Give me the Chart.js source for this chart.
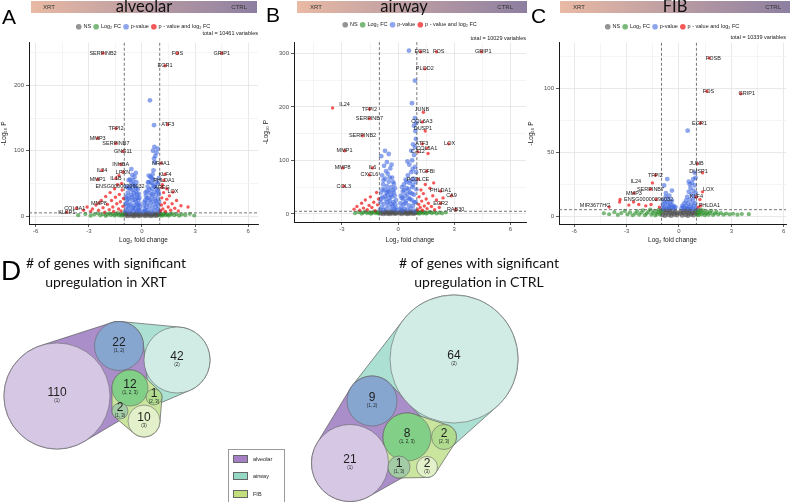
<!DOCTYPE html>
<html>
<head>
<meta charset="utf-8">
<script src="https://cdn.jsdelivr.net/npm/chart.js@4"></script>
<style>
body { margin: 0; width: 790px; height: 502px; overflow: hidden; background: #fff; position: relative; font-family: Lato, 'Liberation Sans', sans-serif; }
canvas { position: absolute; }
.banner { position: absolute; top: 1px; height: 12px; background: linear-gradient(90deg, #e9baa4, #8d7fa1); }
.banner .t { position: absolute; left: 0; right: 0; top: -4px; text-align: center; font-size: 16.5px; line-height: 18px; color: #111; }
.banner .l, .banner .r { position: absolute; top: 3px; font: 6px 'Liberation Sans', Arial, sans-serif; color: #333; }
.letter { position: absolute; font-family: 'Liberation Sans', Arial, sans-serif; color: #000; line-height: 1; }
.dtitle { position: absolute; width: 220px; text-align: center; font-size: 14px; line-height: 19px; color: #111; }
.elegend { position: absolute; left: 228px; top: 449px; width: 57px; height: 60px; border: 1px solid #9a9a9a; box-sizing: border-box; font: 5.5px 'Liberation Sans', Arial, sans-serif; color: #222; }
.elegend div { height: 17.5px; display: flex; align-items: center; padding-left: 4px; }
.elegend span { display: inline-block; width: 13px; height: 6px; border: 0.5px solid #666; margin-right: 5px; }
</style>
</head>
<body>
<canvas id="volA" width="262" height="229" style="left:0;top:15px"></canvas>
<canvas id="volB" width="268" height="229" style="left:262px;top:15px"></canvas>
<canvas id="volC" width="263" height="229" style="left:527px;top:15px"></canvas>
<canvas id="euler" width="790" height="252" style="left:0;top:250px"></canvas>

<div class="banner" style="left:31px;width:226px"><span class="l" style="left:12px">XRT</span><div class="t">alveolar</div><span class="r" style="right:10px">CTRL</span></div>
<div class="banner" style="left:297px;width:230px"><span class="l" style="left:13px">XRT</span><div class="t" style="right:16px">airway</div><span class="r" style="right:14px">CTRL</span></div>
<div class="banner" style="left:560px;width:230px"><span class="l" style="left:13px">XRT</span><div class="t">FIB</div><span class="r" style="right:9px">CTRL</span></div>
<div class="letter" style="left:2px;top:6px;font-size:21px">A</div>
<div class="letter" style="left:266px;top:4px;font-size:21px">B</div>
<div class="letter" style="left:531px;top:5px;font-size:21px">C</div>
<div class="letter" style="left:1px;top:257px;font-size:28px">D</div>
<div class="dtitle" style="left:-4px;top:253px"># of genes with significant<br>upregulation in XRT</div>
<div class="dtitle" style="left:369px;top:253px"># of genes with significant<br>upregulation in CTRL</div>
<div class="elegend">
  <div><span style="background:#a57fc3"></span>alveolar</div>
  <div><span style="background:#95d9c4"></span>airway</div>
  <div><span style="background:#c2df7b"></span>FIB</div>
</div>

<script>
Chart.defaults.font.family = "'Liberation Sans', Arial, sans-serif"
Chart.defaults.color = '#4d4d4d'
Chart.defaults.animation = false

const fcCutoff = 1
const pCutoff = 5
const volcanoLabels = ['NS', 'Log₂ FC', 'p-value', 'p - value and log₂ FC']
const volcanoColours = ['rgba(77,77,77,0.6)', 'rgba(34,139,34,0.6)', 'rgba(65,105,225,0.6)', 'rgba(238,0,0,0.65)']
const volcanoRadius = [2.5, 2.1, 2.4, 1.7]
const xTickValues = [-6, -4.5, -3, -1.5, 0, 1.5, 3, 4.5, 6]

// alveolar
const aNS = [[-0.95,1.2],[-0.88,3.5],[-0.8,0.6],[-0.74,2.4],[-0.66,4.1],[-0.6,1.1],[-0.52,3.0],[-0.45,0.4],[-0.4,2.2],[-0.33,4.3],[-0.27,1.5],[-0.2,3.1],[-0.14,0.8],[-0.08,2.6],[0.06,1.9],[0.12,3.8],[0.19,0.7],[0.25,2.7],[0.31,4.4],[0.38,1.3],[0.44,3.3],[0.51,0.5],[0.57,2.1],[0.63,4.0],[0.7,1.4],[0.77,3.2],[0.83,0.9],[0.9,2.5],[0.96,4.2],[-0.92,4.6]]
const aFC = [[-3.6,1.5],[-3.2,3.2],[-2.9,0.8],[-2.7,2.6],[-2.5,4.1],[-2.35,1.2],[-2.2,3.0],[-2.05,0.5],[-1.95,2.2],[-1.85,4.3],[-1.75,1.6],[-1.65,3.4],[-1.55,0.9],[-1.45,2.7],[-1.38,4.5],[-1.3,1.3],[-1.22,3.1],[-1.15,0.6],[-1.08,2.4],[-1.03,4.0],[1.03,1.1],[1.08,3.3],[1.14,0.7],[1.2,2.5],[1.27,4.2],[1.34,1.5],[1.42,3.0],[1.5,0.9],[1.6,2.3],[1.7,4.0],[1.82,1.4],[1.95,3.1],[2.1,0.8],[2.25,2.6],[2.45,1.7],[2.7,3.5],[2.95,1.0]]
const aP = [[-0.95,7],[-0.9,15],[-0.92,28],[-0.86,9],[-0.83,21],[-0.8,36],[-0.76,12],[-0.73,27],[-0.7,44],[-0.68,6],[-0.65,18],[-0.62,33],[-0.6,50],[-0.57,10],[-0.55,24],[-0.52,40],[-0.5,55],[-0.47,8],[-0.45,16],[-0.43,30],[-0.4,46],[-0.38,12],[-0.36,22],[-0.34,37],[-0.32,52],[-0.3,7],[-0.28,18],[-0.26,28],[-0.24,41],[-0.22,11],[-0.2,25],[-0.18,34],[-0.16,9],[-0.14,19],[-0.12,14],[-0.1,7],[-0.42,60],[-0.35,66],[-0.55,63],[-0.6,72],[-0.75,55],[-0.88,45],
  [-0.93,19],[-0.85,31],[-0.78,43],[-0.71,16],[-0.64,41],[-0.58,29],[-0.5,13],[-0.46,35],[-0.39,25],[-0.33,43],[-0.27,33],[-0.21,17],[-0.15,28],[-0.67,56],[-0.48,48],[-0.82,25],
  [0.1,7],[0.12,16],[0.15,10],[0.18,24],[0.2,8],[0.22,31],[0.25,14],[0.27,38],[0.3,20],[0.32,45],[0.35,9],[0.37,28],[0.4,52],[0.42,16],[0.45,35],[0.48,60],[0.5,6],[0.52,22],[0.55,42],[0.58,12],[0.6,30],[0.62,48],[0.65,18],[0.68,37],[0.7,8],[0.72,26],[0.75,44],[0.78,14],[0.8,33],[0.83,20],[0.86,40],[0.88,10],[0.9,27],[0.93,16],[0.96,34],[0.98,8],[0.6,64],[0.65,70],[0.72,82],[0.68,88],[0.75,92],[0.82,97],[0.88,103],[0.62,100],[0.7,106],[0.45,177],[0.68,139],[0.95,58],[0.9,50],
  [0.14,21],[0.2,36],[0.28,27],[0.34,52],[0.41,41],[0.47,25],[0.53,51],[0.57,33],[0.64,56],[0.7,46],[0.76,23],[0.84,52],[0.91,38],[0.97,22],[0.38,62],[0.55,58]]
const aBoth = [[-2.2,249],[2.0,249],[4.5,249],[1.3,230],[1.45,140],[-1.47,134],[-2.5,119],[-1.47,111],[-1.07,99],[-1.2,79],[1.07,81],[-2.26,70],[-1.07,67],[-1.47,58],[-2.5,56],[1.3,64],[1.24,55],[1.13,44],[1.75,37],[-3.7,12],[-4.25,6],[-2.43,20],
  [-3.3,9],[-3.1,14],[-2.9,7],[-2.8,11],[-2.6,17],[-2.45,9],[-2.3,24],[-2.2,13],[-2.1,6],[-2.05,30],[-1.95,18],[-1.85,10],[-1.8,36],[-1.72,24],[-1.65,14],[-1.6,7],[-1.55,42],[-1.5,29],[-1.42,19],[-1.38,48],[-1.32,11],[-1.28,33],[-1.22,22],[-1.18,8],[-1.12,40],[-1.08,15],[-1.05,27],[-1.3,62],[-1.15,50],
  [1.05,8],[1.1,17],[1.12,28],[1.18,11],[1.22,36],[1.28,20],[1.33,7],[1.4,26],[1.48,14],[1.55,31],[1.62,9],[1.7,19],[1.85,12],[1.95,24],[2.05,8],[2.2,16],[2.6,14],[1.15,48],[1.4,42]]
const aGenes = ['SERPINB2','FOS','GRIP1','EGR1','ATF3','TFPI2','MMP3','SERPINB7','GNG11','INHBA','NR4A1','IL24','LPXN','IL1B','MMP1','KLF4','PHLDA1','ENSG00000296032','AREG','LOX','COL3A1','KLKP1','MMP8']
const aGeneX = [-2.2,2.0,4.5,1.3,1.45,-1.47,-2.5,-1.47,-1.07,-1.2,1.07,-2.26,-1.07,-1.47,-2.5,1.3,1.24,-1.24,1.13,1.75,-3.8,-4.25,-2.43]
const aGeneY = [249,249,249,230,140,134,119,111,99,79,81,70,67,58,56,64,55,46,44,37,12,6,20]

// airway
const bNS = [[-0.95,1.4],[-0.88,3.6],[-0.8,0.5],[-0.73,2.3],[-0.66,4.2],[-0.6,1.0],[-0.52,3.1],[-0.45,0.5],[-0.4,2.1],[-0.33,4.4],[-0.27,1.4],[-0.2,3.2],[-0.14,0.7],[-0.08,2.5],[0.07,1.8],[0.13,3.9],[0.19,0.6],[0.26,2.6],[0.32,4.5],[0.38,1.2],[0.45,3.4],[0.51,0.4],[0.58,2.0],[0.64,4.1],[0.7,1.5],[0.77,3.3],[0.84,0.8],[0.9,2.4],[0.96,4.3]]
const bFC = [[-2.3,1.5],[-2.1,3.4],[-1.95,0.8],[-1.85,2.6],[-1.75,4.2],[-1.65,1.3],[-1.55,3.1],[-1.45,0.6],[-1.38,2.2],[-1.3,4.4],[-1.22,1.7],[-1.15,3.5],[-1.08,0.9],[-1.03,2.8],[1.03,1.4],[1.08,3.6],[1.14,0.6],[1.2,2.4],[1.27,4.3],[1.34,1.2],[1.42,3.0],[1.5,0.7],[1.6,2.5],[1.7,4.1],[1.8,1.5],[1.92,3.2],[2.05,0.9],[2.2,2.4],[2.35,1.2],[2.55,3.0]]
const bP = [[-0.97,8],[-0.94,22],[-0.9,40],[-0.87,13],[-0.84,31],[-0.8,55],[-0.77,7],[-0.74,19],[-0.72,45],[-0.69,66],[-0.66,27],[-0.63,10],[-0.6,52],[-0.58,36],[-0.55,75],[-0.52,16],[-0.5,60],[-0.47,42],[-0.44,24],[-0.42,85],[-0.4,8],[-0.37,50],[-0.35,32],[-0.32,68],[-0.3,14],[-0.28,44],[-0.25,22],[-0.22,56],[-0.2,9],[-0.18,34],[-0.15,18],[-0.12,26],[-0.1,7],[-0.85,72],[-0.75,90],[-0.6,97],[-0.9,108],[-0.5,112],[-0.7,118],[-0.35,92],
  [-0.92,28],[-0.83,46],[-0.78,63],[-0.7,33],[-0.64,80],[-0.56,22],[-0.53,44],[-0.45,68],[-0.38,36],[-0.33,18],[-0.27,60],[-0.23,40],[-0.17,48],[-0.13,12],[-0.62,40],[-0.47,30],
  [0.1,8],[0.13,20],[0.16,12],[0.19,30],[0.22,6],[0.25,42],[0.28,18],[0.31,55],[0.34,10],[0.37,34],[0.4,64],[0.43,24],[0.46,48],[0.49,8],[0.52,72],[0.55,30],[0.58,16],[0.61,58],[0.64,40],[0.67,10],[0.7,78],[0.73,26],[0.76,50],[0.79,15],[0.82,66],[0.85,36],[0.88,6],[0.91,88],[0.94,22],[0.97,46],[0.6,92],[0.75,100],[0.85,110],[0.9,125],[0.95,140],[0.92,155],[0.97,170],[0.85,165],[0.74,207],[0.9,179],[0.9,249],[0.58,305],[0.7,118],[0.8,130],[0.5,98],
  [0.15,34],[0.21,50],[0.27,28],[0.33,44],[0.39,20],[0.45,60],[0.5,38],[0.56,46],[0.63,28],[0.68,62],[0.74,38],[0.8,54],[0.86,22],[0.93,60],[0.96,78],[0.78,84]]
const bBoth = [[1.2,303],[2.05,303],[4.45,303],[1.43,271],[-3.5,198],[-1.53,196],[1.35,190],[-1.53,178],[1.3,172],[1.45,155],[-1.9,146],[1.3,131],[2.7,131],[1.55,123],[1.6,113],[1.06,116],[-2.86,118],[-2.96,86],[-1.37,86],[1.53,80],[-1.53,73],[1.06,65],[-2.9,52],[2.27,43],[2.85,34],[2.27,20],[3.07,8],
  [1.05,8],[1.1,18],[1.12,32],[1.18,12],[1.22,45],[1.26,24],[1.3,7],[1.35,38],[1.4,15],[1.45,55],[1.5,28],[1.55,10],[1.62,20],[1.7,48],[1.78,14],[1.85,34],[1.95,8],[2.05,26],[2.2,12],[2.4,30],[1.9,58],
  [-2.35,9],[-2.2,14],[-2.05,7],[-1.95,20],[-1.85,11],[-1.75,26],[-1.65,8],[-1.55,16],[-1.48,32],[-1.4,12],[-1.3,22],[-1.22,6],[-1.15,40],[-1.1,17],[-1.05,28]]
const bGenes = ['EGR1','FOS','GRIP1','PLOD2','IL24','TFPI2','JUNB','SERPINB7','COL6A3','DUSP1','SERPINB2','ATF3','LOX','COL5A1','CA12','MMP1','MMP8','IL6','TGFBI','CXCL6','PCOLCE','COL3','PHLDA1','CA9','EGR2','RAB30']
const bGeneX = [1.27,2.17,4.55,1.43,-2.86,-1.53,1.27,-1.53,1.27,1.32,-1.9,1.27,2.75,1.53,1.06,-2.86,-2.96,-1.37,1.53,-1.53,1.06,-2.9,2.27,2.85,2.27,3.07]
const bGeneY = [303,303,303,271,204,196,196,178,172,160,146,131,131,123,116,118,86,86,80,73,65,52,43,34,20,8]

// FIB
const cNS = [[-0.95,1.0],[-0.9,3.6],[-0.84,5.0],[-0.8,0.5],[-0.74,2.4],[-0.66,4.3],[-0.6,1.2],[-0.52,3.1],[-0.45,0.4],[-0.4,2.2],[-0.33,4.6],[-0.27,1.5],[-0.2,3.2],[-0.13,0.8],[-0.08,2.3],[0.08,1.9],[0.13,3.8],[0.19,0.6],[0.25,2.7],[0.31,4.6],[0.38,1.3],[0.44,3.3],[0.51,0.5],[0.57,2.1],[0.63,4.1],[0.7,1.4],[0.77,3.2],[0.83,0.9],[0.9,2.5],[0.95,4.4],[-0.55,5.2],[0.5,5.1]]
const cFC = [[-4.3,2.2],[-4.0,1.4],[-3.7,3.0],[-3.5,0.9],[-3.3,2.3],[-3.1,4.0],[-2.95,1.2],[-2.8,2.9],[-2.65,0.6],[-2.5,2.0],[-2.4,3.8],[-2.28,1.1],[-2.15,2.7],[-2.05,4.5],[-1.95,0.7],[-1.85,1.9],[-1.75,3.3],[-1.65,5.0],[-1.58,1.0],[-1.5,2.5],[-1.42,4.1],[-1.35,0.5],[-1.28,1.8],[-1.22,3.2],[-1.16,4.8],[-1.1,1.2],[-1.05,2.6],[-1.02,4.0],
  [1.02,1.0],[1.05,2.8],[1.08,4.6],[1.12,0.6],[1.16,2.0],[1.2,3.5],[1.25,5.0],[1.3,1.2],[1.36,2.7],[1.42,4.2],[1.48,0.7],[1.55,2.0],[1.62,3.4],[1.7,1.1],[1.78,2.5],[1.86,4.0],[1.95,0.8],[2.05,2.0],[2.15,3.2],[2.25,1.2],[2.4,2.4],[2.55,1.0],[2.7,2.0],[2.9,1.3],[3.1,1.8],[3.35,1.1],[3.6,1.6],[4.0,1.5]]
const cP = [[-0.95,6],[-0.92,9],[-0.88,12],[-0.85,7],[-0.8,10],[-0.76,15],[-0.72,6],[-0.68,11],[-0.64,8],[-0.6,13],[-0.56,7],[-0.52,10],[-0.48,6],[-0.44,9],[-0.4,12],[-0.35,7],[-0.3,8],[-0.25,6],[-0.2,7],[-0.67,29],[-0.85,24],[-0.4,20],[-0.75,18],[-0.55,16],
  [0.15,6],[0.2,8],[0.25,7],[0.3,10],[0.35,6],[0.4,12],[0.43,8],[0.47,15],[0.5,6],[0.53,10],[0.56,19],[0.6,7],[0.63,13],[0.66,22],[0.7,9],[0.72,17],[0.75,26],[0.78,6],[0.8,12],[0.83,20],[0.86,8],[0.88,15],[0.9,24],[0.93,10],[0.96,18],[0.56,27],[0.62,25],[0.9,34],[0.95,30],[0.82,29],[0.5,67],[0.7,5.5],[0.98,6]]
const cBoth = [[1.74,124],[1.6,98],[3.54,96],[1.24,73],[1.05,41],[1.35,34],[-1.35,32],[-1.52,26],[-1.63,21],[1.35,19],[-2.58,18],[1.0,15],[-3.37,13],[-2.87,8.6],[-4.0,7],[-3.4,11],[-2.6,11],[-2.3,9],[-1.9,8],[-1.6,9],[-1.3,13],[-1.12,7],[1.24,8],[1.2,13],[1.1,7]]
const cGenes = ['FOSB','FOS','GRIP1','EGR1','JUNB','DUSP1','TFPI2','IL24','SERPINB7','LOX','MMP3','KLF4','ENSG00000296032','MIR3677HG','PHLDA1']
const cGeneX = [1.97,1.69,3.88,1.18,1.0,1.12,-1.35,-2.47,-1.63,1.69,-2.58,1.0,-1.74,-4.8,1.74]
const cGeneY = [124,98,96,73,41,35,32,27,21,21,18,15,13,8.5,8]

// euler counts
const xrtCounts = [110, 22, 42, 12, 1, 2, 10]
const xrtSets = [[1], [1, 2], [2], [1, 2, 3], [2, 3], [1, 3], [3]]
const xrtX = [57, 119, 177, 130, 154, 120, 144]
const xrtY = [396, 346, 360, 388, 397, 411, 421]
const xrtR = [53, 24.5, 33, 18, 8, 8, 16]

const ctrlCounts = [64, 9, 21, 8, 2, 1, 2]
const ctrlSets = [[2], [1, 2], [1], [1, 2, 3], [2, 3], [1, 3], [3]]
const ctrlX = [454, 372, 350, 407, 444, 399, 427]
const ctrlY = [359, 401, 463, 437, 437, 467, 467]
const ctrlR = [64, 25, 38.5, 24, 12.5, 11, 10.5]

const regionColours = { '1': '#d6c8e5', '2': '#d1ece5', '3': '#e3f1cb', '1,2': '#86a6d0', '1,3': '#a3cca6', '2,3': '#b1dc90', '1,2,3': '#82cf87' }
const hullColours = { 1: '#a98ec9', 2: '#abe0d2', 3: '#c9e59e' }
const hullOrder = [2, 1, 3]

const pts = a => a.map(([x, y]) => ({ x, y }))

const volcano = (id, p) => {
  const layer = {
    id: 'geneLayer',
    afterDatasetsDraw(chart) {
      const { ctx, chartArea: a, scales: { x, y } } = chart
      ctx.save()
      ctx.setLineDash([3, 2])
      ctx.strokeStyle = '#555'
      ctx.lineWidth = 0.8
      ctx.beginPath()
      for (const v of [-fcCutoff, fcCutoff]) {
        const px = x.getPixelForValue(v)
        ctx.moveTo(px, a.top); ctx.lineTo(px, a.bottom)
      }
      const py = y.getPixelForValue(pCutoff)
      ctx.moveTo(a.left, py); ctx.lineTo(a.right, py)
      ctx.stroke()
      ctx.setLineDash([])
      ctx.font = "5.5px 'Liberation Sans', Arial, sans-serif"
      ctx.fillStyle = '#1a1a1a'
      ctx.textAlign = 'center'
      ctx.textBaseline = 'middle'
      p.genes.forEach((g, i) => ctx.fillText(g, x.getPixelForValue(p.geneX[i]), y.getPixelForValue(p.geneY[i])))
      ctx.restore()
    }
  }
  const major = c => c.tick && Math.abs(c.tick.value % p.yLabelStep) < 1e-9
  new Chart(document.getElementById(id), {
    type: 'scatter',
    data: {
      datasets: [p.ns, p.fc, p.pv, p.both].map((d, i) => ({
        label: volcanoLabels[i],
        data: pts(d),
        backgroundColor: volcanoColours[i],
        borderWidth: 0,
        pointRadius: volcanoRadius[i],
        order: 4 - i,
      })),
    },
    options: {
      responsive: false,
      events: [],
      layout: { padding: { top: p.padTop, right: p.padRight } },
      plugins: {
        tooltip: { enabled: false },
        legend: {
          fullSize: false,
          labels: { usePointStyle: true, pointStyle: 'circle', boxWidth: 4, boxHeight: 4, padding: 3, font: { size: 5.5 }, color: '#1a1a1a', sort: (a, b) => a.datasetIndex - b.datasetIndex },
        },
        subtitle: { display: true, text: p.total, align: 'end', fullSize: false, weight: 500, font: { size: 5.5 }, color: '#1a1a1a', padding: { top: p.subTop, bottom: p.subBottom } },
      },
      scales: {
        x: {
          type: 'linear', min: p.xMin, max: p.xMax,
          afterBuildTicks: s => { s.ticks = xTickValues.filter(v => v >= s.min && v <= s.max).map(value => ({ value })) },
          afterFit: s => { s.height = p.xAxisH },
          ticks: { callback: v => (Math.abs(v % 3) < 1e-9 ? v : ''), font: { size: 6 }, padding: 1, maxRotation: 0, autoSkip: false },
          grid: { color: c => (c.tick && Math.abs(c.tick.value % 3) < 1e-9 ? '#e3e3e3' : '#f1f1f1'), tickColor: c => (c.tick && Math.abs(c.tick.value % 3) < 1e-9 ? '#333' : 'rgba(0,0,0,0)'), tickLength: 3, lineWidth: 0.8 },
          border: { color: '#1a1a1a', width: 1 },
          title: { display: true, text: 'Log₂ fold change', font: { size: 6.5 }, color: '#1a1a1a', padding: 0 },
        },
        y: {
          type: 'linear', min: p.yMin, max: p.yMax,
          afterBuildTicks: s => { s.ticks = p.yTicks.map(value => ({ value })) },
          afterFit: s => { s.width = p.yAxisW },
          ticks: { callback: v => (Math.abs(v % p.yLabelStep) < 1e-9 ? v : ''), font: { size: 6 }, padding: 2, autoSkip: false },
          grid: { color: c => (major(c) ? '#e3e3e3' : '#f1f1f1'), tickColor: c => (major(c) ? '#333' : 'rgba(0,0,0,0)'), tickLength: 3, lineWidth: 0.8 },
          border: { color: '#1a1a1a', width: 1 },
          title: { display: true, text: '-Log₁₀ P', font: { size: 6.5 }, color: '#1a1a1a', padding: 0 },
        },
      },
    },
    plugins: [layer],
  })
}

volcano('volA', { ns: aNS, fc: aFC, pv: aP, both: aBoth, genes: aGenes, geneX: aGeneX, geneY: aGeneY, total: 'total = 10461 variables',
  xMin: -6.38, xMax: 6.55, yMin: -12, yMax: 265, yTicks: [0, 50, 100, 150, 200, 250], yLabelStep: 100, yAxisW: 29, xAxisH: 20, padTop: 6, subTop: -9, subBottom: 5.7, padRight: 4 })
volcano('volB', { ns: bNS, fc: bFC, pv: bP, both: bBoth, genes: bGenes, geneX: bGeneX, geneY: bGeneY, total: 'total = 10029 variables',
  xMin: -5.56, xMax: 6.83, yMin: -15, yMax: 321, yTicks: [0, 50, 100, 150, 200, 250, 300], yLabelStep: 100, yAxisW: 32, xAxisH: 22, padTop: 4, subTop: -2, subBottom: 0, padRight: 2 })
volcano('volC', { ns: cNS, fc: cFC, pv: cP, both: cBoth, genes: cGenes, geneX: cGeneX, geneY: cGeneY, total: 'total = 10339 variables',
  xMin: -6.87, xMax: 6.13, yMin: -6.25, yMax: 136, yTicks: [0, 25, 50, 75, 100, 125], yLabelStep: 50, yAxisW: 32, xAxisH: 20, padTop: 6, subTop: -5, subBottom: 1.7, padRight: 0 })

const convexHull = input => {
  const p = input.slice().sort((a, b) => a[0] - b[0] || a[1] - b[1])
  const cross = (o, a, b) => (a[0] - o[0]) * (b[1] - o[1]) - (a[1] - o[1]) * (b[0] - o[0])
  const lower = [], upper = []
  for (const q of p) {
    while (lower.length >= 2 && cross(lower[lower.length - 2], lower[lower.length - 1], q) <= 0) lower.pop()
    lower.push(q)
  }
  for (const q of p.reverse()) {
    while (upper.length >= 2 && cross(upper[upper.length - 2], upper[upper.length - 1], q) <= 0) upper.pop()
    upper.push(q)
  }
  upper.pop(); lower.pop()
  return lower.concat(upper)
}

const pxRadius = (chart, r) => chart.scales.x.getPixelForValue(r) - chart.scales.x.getPixelForValue(0)

const eulerLayer = {
  id: 'eulerLayer',
  beforeDatasetsDraw(chart) {
    const { ctx, scales: { x, y } } = chart
    ctx.save()
    chart.data.datasets.forEach(ds => {
      hullOrder.forEach(k => {
        const ring = []
        ds.sets.forEach((s, i) => {
          if (!s.includes(k)) return
          const cx = x.getPixelForValue(ds.xs[i]), cy = y.getPixelForValue(ds.ys[i]), r = pxRadius(chart, ds.rs[i])
          for (let t = 0; t < 90; t++) ring.push([cx + r * Math.cos(t * Math.PI / 45), cy + r * Math.sin(t * Math.PI / 45)])
        })
        const h = convexHull(ring)
        ctx.beginPath()
        h.forEach(([hx, hy], j) => (j ? ctx.lineTo(hx, hy) : ctx.moveTo(hx, hy)))
        ctx.closePath()
        ctx.fillStyle = hullColours[k]
        ctx.fill()
        ctx.strokeStyle = '#5b5b5b'
        ctx.lineWidth = 0.7
        ctx.stroke()
      })
    })
    ctx.restore()
  },
  afterDatasetsDraw(chart) {
    const { ctx, scales: { x, y } } = chart
    ctx.save()
    ctx.textAlign = 'center'
    ctx.textBaseline = 'middle'
    ctx.fillStyle = '#1e1e1e'
    chart.data.datasets.forEach(ds => {
      ds.counts.forEach((n, i) => {
        const cx = x.getPixelForValue(ds.xs[i]), cy = y.getPixelForValue(ds.ys[i])
        ctx.font = "12px 'Liberation Sans', Arial, sans-serif"
        ctx.fillText(String(n), cx, cy - 3)
        ctx.font = "4.5px 'Liberation Sans', Arial, sans-serif"
        ctx.fillText('(' + ds.sets[i].join(', ') + ')', cx, cy + 5)
      })
    })
    ctx.restore()
  }
}

// scales run one unit per pixel, so r doubles as the bubble radius
const eulerSet = (label, counts, sets, xs, ys, rs) => ({
  label, counts, sets, xs, ys, rs,
  data: xs.map((x, i) => ({ x, y: ys[i], r: rs[i] })),
  backgroundColor: sets.map(s => regionColours[s.join(',')]),
  borderColor: '#666',
  borderWidth: 0.6,
  clip: false,
})

new Chart(document.getElementById('euler'), {
  type: 'bubble',
  data: {
    datasets: [
      eulerSet('XRT', xrtCounts, xrtSets, xrtX, xrtY, xrtR),
      eulerSet('CTRL', ctrlCounts, ctrlSets, ctrlX, ctrlY, ctrlR),
    ],
  },
  options: {
    responsive: false,
    events: [],
    layout: { padding: 0, autoPadding: false },
    plugins: { legend: { display: false }, tooltip: { enabled: false } },
    scales: {
      x: { display: false, min: 0, max: 790 },
      y: { display: false, min: 250, max: 502, reverse: true },
    },
  },
  plugins: [eulerLayer],
})
</script>
</body>
</html>
